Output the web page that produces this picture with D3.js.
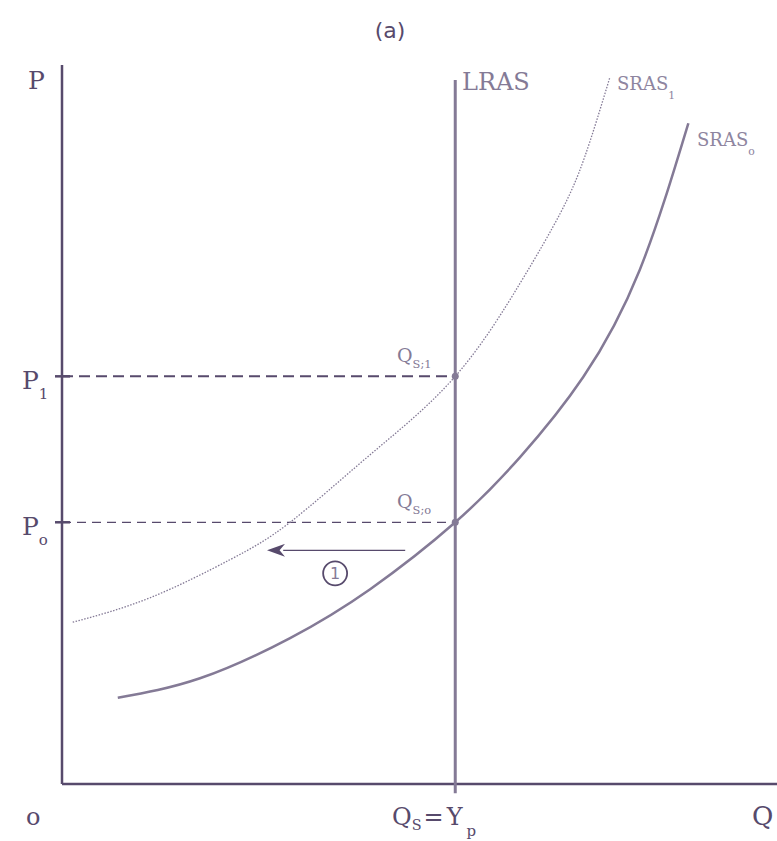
<!DOCTYPE html>
<html>
<head>
<meta charset="UTF-8" />
<title>LRAS SRAS</title>
<script src="https://d3js.org/d3.v7.min.js"></script>
<style>
  body { margin: 0; background: #fff; }
  text { font-family: "DejaVu Serif", serif; }
</style>
</head>
<body>
<svg id="chart" width="777" height="841"></svg>
<script>
// data (quantity 0-100, price 0-100)
var sras0 = [[7.8,12.0],[19.3,14.7],[31.9,20.3],[43.1,27.1],[55.0,36.4],[64.1,45.5],[72.9,56.6],[80.8,71.5],[87.6,91.9]];
var sras1 = [[1.5,22.5],[12.3,25.9],[23.5,31.2],[31.9,36.4],[43.1,45.8],[55.0,56.7],[64.1,69.7],[69.7,79.4],[73.1,87.2],[76.6,98.2]];
var lrasQ = 55;
var priceLevels = [{name:"P", sub:"1", v:56.7, q:"1"}, {name:"P", sub:"o", v:36.4, q:"o"}];
var arrowFrom = 48, arrowTo = 28.7, arrowP = 32.5;
var stepLabel = {q:38.2, p:29.3, text:"1"};

// colours
var dark = "#574a6c", mid = "#847a96", light = "#8e85a0";

var svg = d3.select("#chart");
var x = d3.scaleLinear().domain([0,100]).range([62,777]);
var y = d3.scaleLinear().domain([0,100]).range([784,65]);

svg.append("defs").append("marker")
  .attr("id","arr").attr("viewBox","0 0 10 10").attr("refX",1).attr("refY",5)
  .attr("markerUnits","userSpaceOnUse")
  .attr("markerWidth",18).attr("markerHeight",13).attr("orient","auto")
  .attr("preserveAspectRatio","none")
  .append("path").attr("d","M0,0 L10,5 L0,10 L3,5 z").attr("fill",dark);

// axes
svg.append("line").attr("x1",x(0)).attr("x2",x(0)).attr("y1",y(100)).attr("y2",y(0))
  .attr("stroke",dark).attr("stroke-width",2.5);
svg.append("line").attr("x1",x(0)).attr("x2",x(100)).attr("y1",y(0)).attr("y2",y(0))
  .attr("stroke",dark).attr("stroke-width",2.5);

// price dashed lines
priceLevels.forEach(function(p,i){
  svg.append("line").attr("x1",x(0)).attr("x2",x(lrasQ)).attr("y1",y(p.v)).attr("y2",y(p.v))
    .attr("stroke",dark).attr("stroke-width", i==0?2:1.2)
    .attr("stroke-dasharray", i==0?"11,6":"9,6");
  svg.append("line").attr("x1",x(0)-7).attr("x2",x(0)+8).attr("y1",y(p.v)).attr("y2",y(p.v))
    .attr("stroke",dark).attr("stroke-width",2.5);
});

var line = d3.line().x(d=>x(d[0])).y(d=>y(d[1])).curve(d3.curveNatural);

svg.append("path").attr("d",line(sras1)).attr("fill","none")
  .attr("stroke",mid).attr("stroke-width",1.3).attr("stroke-dasharray","1.5,1.5");
svg.append("path").attr("d",line(sras0)).attr("fill","none")
  .attr("stroke",mid).attr("stroke-width",2.5);

// LRAS
svg.append("line").attr("x1",x(lrasQ)).attr("x2",x(lrasQ)).attr("y1",y(97.9)).attr("y2",y(-1.3))
  .attr("stroke",mid).attr("stroke-width",3);

// intersection points
svg.selectAll("circle.pt").data(priceLevels).enter().append("circle")
  .attr("class","pt").attr("cx",x(lrasQ)).attr("cy",d=>y(d.v)).attr("r",3.5).attr("fill",mid);

// arrow
svg.append("line").attr("x1",x(arrowFrom)).attr("x2",x(arrowTo)+16).attr("y1",y(arrowP)).attr("y2",y(arrowP))
  .attr("stroke",dark).attr("stroke-width",1.3).attr("marker-end","url(#arr)");
svg.append("circle").attr("cx",x(stepLabel.q)).attr("cy",y(stepLabel.p)).attr("r",12)
  .attr("fill","none").attr("stroke",dark).attr("stroke-width",1.8);
svg.append("text").attr("x",x(stepLabel.q)).attr("y",y(stepLabel.p)+6).attr("text-anchor","middle")
  .attr("font-size",16).attr("fill",mid).style("font-family","'DejaVu Sans', sans-serif").text(stepLabel.text);

// labels
function lab(px,py,t,sub,size,col,subDy){
  var tx = svg.append("text").attr("x",px).attr("y",py).attr("font-size",size).attr("fill",col);
  tx.append("tspan").text(t);
  if(sub) tx.append("tspan").attr("dy",subDy||8).attr("font-size",size*0.6).text(sub);
  return tx;
}
svg.append("text").attr("x",390).attr("y",38).attr("text-anchor","middle")
  .attr("font-size",22).attr("fill",dark).style("font-family","'DejaVu Sans', sans-serif").text("(a)");
lab(28,89,"P",null,25,dark);
lab(462,90,"LRAS",null,24,mid);
lab(617,90,"SRAS","1",18,light,9);
lab(697,146,"SRAS","o",18,light,9);
lab(22,389,"P","1",25,dark,10);
lab(22,535,"P","o",25,dark,10);
lab(397,362,"Q","S;1",19,mid,6);
lab(397,508,"Q","S;o",19,mid,6);
lab(26,825,"o",null,24,dark);
var qs = lab(392,825,"Q","S",24,dark,5);
qs.append("tspan").attr("dy",-5).attr("dx",2).text("=");
qs.append("tspan").attr("dx",3).text("Y");
qs.append("tspan").attr("dy",11).attr("dx",4).attr("font-size",15).text("p");
lab(752,825,"Q",null,26,dark);
</script>
</body>
</html>
